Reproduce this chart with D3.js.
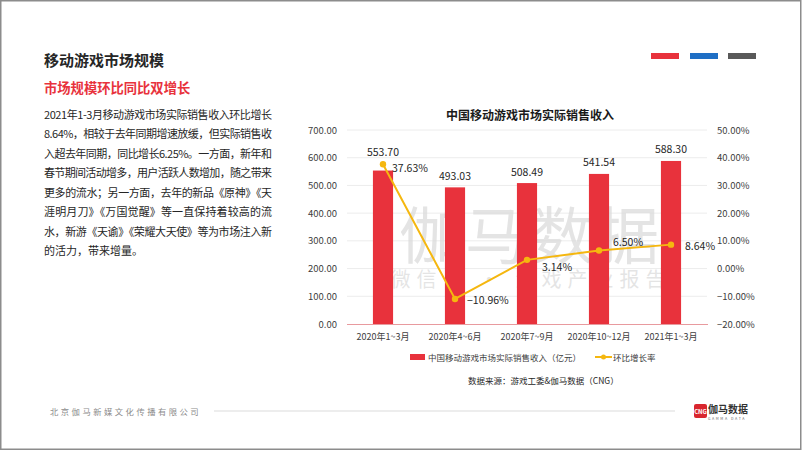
<!DOCTYPE html>
<html><head><meta charset="utf-8">
<script src="https://cdn.jsdelivr.net/npm/d3@7/dist/d3.min.js"></script>
<style>html,body{margin:0;padding:0;background:#fff;}svg{display:block;}</style>
</head><body>
<svg id="c" width="802" height="451"></svg>
<script>
const categories = ["2020年1~3月","2020年4~6月","2020年7~9月","2020年10~12月","2021年1~3月"];
const revenue = [553.70, 493.03, 508.49, 541.54, 588.30];
const growth = [37.63, -10.96, 3.14, 6.50, 8.64];
const leftTicks = [0,100,200,300,400,500,600,700];
const rightTicks = [-20,-10,0,10,20,30,40,50];
const paragraph = [
  "2021年1-3月移动游戏市场实际销售收入环比增长",
  "8.64%，相较于去年同期增速放缓，但实际销售收",
  "入超去年同期，同比增长6.25%。一方面，新年和",
  "春节期间活动增多，用户活跃人数增加，随之带来",
  "更多的流水；另一方面，去年的新品《原神》《天",
  "涯明月刀》《万国觉醒》等一直保持着较高的流",
  "水，新游《天谕》《荣耀大天使》等为市场注入新",
  "的活力，带来增量。"
];

const F = "'Noto Sans CJK SC','Noto Sans',sans-serif";
const svg = d3.select("#c");
svg.style("font-family", F);

// frame
svg.append("rect").attr("x",0.75).attr("y",0.75).attr("width",800).attr("height",448.5)
  .attr("fill","#fff").attr("stroke","#8c8c8c").attr("stroke-width",1.5);

// top right color bars
[["#e8323c",651],["#1f6fc5",690],["#595959",728]].forEach(([c,x])=>{
  svg.append("rect").attr("x",x).attr("y",53).attr("width",28).attr("height",6).attr("fill",c);
});

// titles
svg.append("text").attr("x",44).attr("y",66).attr("font-size",15).attr("font-weight","bold")
  .attr("fill","#262626").text("移动游戏市场规模");
svg.append("text").attr("x",44).attr("y",93).attr("font-size",13.3).attr("font-weight","bold")
  .attr("fill","#e8323c").text("市场规模环比同比双增长");

// paragraph
paragraph.forEach((t,i)=>{
  const tx = svg.append("text").attr("x",44).attr("y",119 + i*19.45).attr("font-size",11)
    .attr("fill","#262626").text(t);
  if (i < paragraph.length-1) tx.attr("textLength",228).attr("lengthAdjust","spacing");
});

// chart
const x = d3.scaleBand().domain(categories).range([347,707]).paddingInner(0.72).paddingOuter(0.36);
const yL = d3.scaleLinear().domain([0,700]).range([324,130]);
const yR = d3.scaleLinear().domain([-20,50]).range([324,130]);

svg.append("text").attr("x",530).attr("y",120).attr("text-anchor","middle").attr("font-size",12)
  .attr("font-weight","bold").attr("fill","#1a1a1a").text("中国移动游戏市场实际销售收入");

// gridlines
svg.append("g").selectAll("line").data(leftTicks.filter(d=>d>0)).join("line")
  .attr("x1",347).attr("x2",707).attr("y1",d=>yL(d)).attr("y2",d=>yL(d))
  .attr("stroke","#ececec").attr("stroke-width",1);

// watermark
svg.append("text").attr("x",531).attr("y",259).attr("text-anchor","middle").attr("font-size",62)
  .attr("letter-spacing",4).attr("fill","#d9d9d9").attr("fill-opacity",0.7).text("伽马数据");
svg.append("text").attr("x",531).attr("y",287).attr("text-anchor","middle").attr("font-size",20)
  .attr("letter-spacing",6).attr("fill","#d9d9d9").attr("fill-opacity",0.7).text("微信号 · 游戏产业报告");

// left axis
const axL = d3.axisLeft(yL).tickValues(leftTicks).tickFormat(d=>d3.format(".2f")(d)).tickSize(0).tickPadding(0);
const gL = svg.append("g").attr("transform","translate(337,0)").call(axL);
gL.select(".domain").remove();
gL.selectAll("text").attr("font-size",9.5).attr("fill","#404040").attr("font-family",F);

// right axis
const axR = d3.axisRight(yR).tickValues(rightTicks).tickFormat(d=>d3.format(".2f")(d)+"%").tickSize(0).tickPadding(0);
const gR = svg.append("g").attr("transform","translate(717,0)").call(axR);
gR.select(".domain").remove();
gR.selectAll("text").attr("font-size",9.5).attr("fill","#404040").attr("font-family",F);

// bars
svg.append("g").selectAll("rect").data(revenue).join("rect")
  .attr("x",(d,i)=>x(categories[i])).attr("width",x.bandwidth())
  .attr("y",d=>yL(d)).attr("height",d=>yL(0)-yL(d)).attr("fill","#e8323c");

// baseline
svg.append("line").attr("x1",347).attr("x2",708).attr("y1",yL(0)+0.5).attr("y2",yL(0)+0.5)
  .attr("stroke","#e89a9e").attr("stroke-width",1);

// x axis labels
const axX = d3.axisBottom(x).tickSize(0).tickPadding(0);
const gX = svg.append("g").attr("transform","translate(0,334)").call(axX);
gX.select(".domain").remove();
gX.selectAll("text").attr("font-size",9).attr("fill","#404040").attr("font-family",F);

// bar labels
svg.append("g").selectAll("text").data(revenue).join("text")
  .attr("x",(d,i)=>x(categories[i])+x.bandwidth()/2)
  .attr("y",(d,i)=>yL(d) - (i===0?15:7.5))
  .attr("text-anchor","middle").attr("font-size",10.5).attr("fill","#262626")
  .text(d=>d3.format(".2f")(d));

// line
const cx = i => x(categories[i]) + x.bandwidth()/2;
const line = d3.line().x((d,i)=>cx(i)).y(d=>yR(d));
svg.append("path").datum(growth).attr("d",line).attr("fill","none")
  .attr("stroke","#f5b70f").attr("stroke-width",2);
svg.append("g").selectAll("circle").data(growth).join("circle")
  .attr("cx",(d,i)=>cx(i)).attr("cy",d=>yR(d)).attr("r",3.2).attr("fill","#f5b70f");

const lblOff = [[9,8],[12,5],[15,11],[14,-5],[14,5]];
svg.append("g").selectAll("text").data(growth).join("text")
  .attr("x",(d,i)=>cx(i)+lblOff[i][0]).attr("y",(d,i)=>yR(d)+lblOff[i][1])
  .attr("font-size",10.5).attr("fill","#262626")
  .text(d=>d3.format(".2f")(d)+"%");

// legend
svg.append("rect").attr("x",410).attr("y",354).attr("width",15).attr("height",6).attr("fill","#e8323c");
svg.append("text").attr("x",428).attr("y",360.5).attr("font-size",8.5).attr("fill","#404040")
  .text("中国移动游戏市场实际销售收入（亿元）");
svg.append("line").attr("x1",595).attr("x2",612).attr("y1",357).attr("y2",357)
  .attr("stroke","#f5b70f").attr("stroke-width",2);
svg.append("circle").attr("cx",603.5).attr("cy",357).attr("r",2.5).attr("fill","#f5b70f");
svg.append("text").attr("x",613).attr("y",360.5).attr("font-size",8.5).attr("fill","#404040")
  .text("环比增长率");

// source
svg.append("text").attr("x",468).attr("y",384).attr("font-size",8.5).attr("fill","#262626")
  .text("数据来源：游戏工委&伽马数据（CNG）");

// footer
svg.append("text").attr("x",50).attr("y",414.5).attr("font-size",8.3).attr("letter-spacing",2.5)
  .attr("fill","#8c8c8c").text("北京伽马新媒文化传播有限公司");
svg.append("line").attr("x1",214).attr("x2",675).attr("y1",411).attr("y2",411)
  .attr("stroke","#ededed").attr("stroke-width",2);
svg.append("rect").attr("x",694).attr("y",404).attr("width",13).attr("height",14).attr("rx",2).attr("fill","#d9262e");
svg.append("text").attr("x",700.5).attr("y",414).attr("text-anchor","middle").attr("font-size",6)
  .attr("font-weight","bold").attr("fill","#fff").text("CNG");
svg.append("text").attr("x",708).attr("y",413).attr("font-size",10).attr("font-weight","bold")
  .attr("fill","#333").text("伽马数据");
svg.append("text").attr("x",708).attr("y",419.5).attr("font-size",3.6).attr("letter-spacing",1.6)
  .attr("fill","#666").text("GAMMA DATA");
</script>
</body></html>
